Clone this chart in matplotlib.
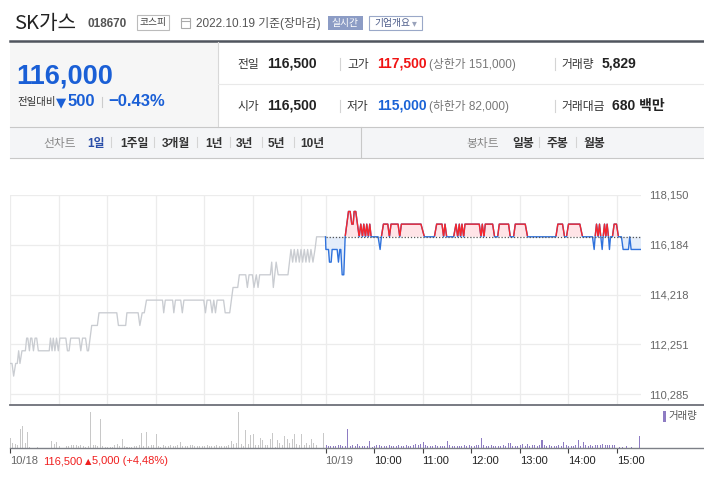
import matplotlib
matplotlib.use("Agg")
import numpy as np
import matplotlib.pyplot as plt
from matplotlib.patches import Rectangle
from matplotlib.lines import Line2D

plt.rcParams["font.family"] = ["Liberation Sans", "Noto Sans CJK KR", "DejaVu Sans"]

W, H = 704, 478

## price levels (minutes from 09:00, one trading day = 390 min)
prev_close = 116500

prev_t = [0, 2.5, 4.5, 7, 9, 10.7, 12.3, 14.8, 19, 20.6,
          22, 24, 25.5, 27, 29, 31, 33, 35, 48.5, 50,
          52, 53.5, 55.5, 57.5, 59.7, 61.7, 69, 71, 73, 75,
          85.5, 87.5, 89.7, 93.4, 95.5, 97, 101, 108, 110, 132,
          134, 143, 144.5, 158.4, 160.5, 163.4, 166, 168.7, 188.5, 190,
          192, 201, 202.5, 204.5, 211, 213, 215, 239.5, 241.6, 243.6,
          247.7, 249.8, 251.9, 254, 256, 264, 266, 271.6, 275.7, 281.5,
          283.5, 291.4, 293.4, 295.5, 299.6, 301.6, 304.5, 306.6, 308.6, 321.8,
          323.5, 325.5, 329, 331.5, 343.6, 347.3, 349.4, 351.4, 353.5, 355.6,
          357.6, 359.7, 361.7, 363.8, 365.8, 367.9, 370, 372, 374.5, 377,
          379, 390]
prev_p = [111500, 111500, 111000, 111500, 111500, 112000, 111500, 112000, 112000, 112500,
          112500, 112000, 112500, 112500, 112000, 112500, 112500, 112000, 112000, 112500,
          112000, 112500, 112000, 112500, 112000, 112500, 112500, 112000, 112000, 112500,
          112500, 112000, 112500, 112500, 112000, 112000, 113000, 113000, 113500, 113500,
          113000, 113000, 113500, 113500, 113000, 113500, 113500, 114000, 114000, 113500,
          114000, 114000, 113500, 114000, 114000, 113500, 114000, 114000, 113500, 114000,
          114000, 113500, 114000, 113500, 114000, 114000, 113500, 113500, 114500, 114500,
          115000, 115000, 114500, 115000, 115000, 114500, 115000, 114500, 115000, 115000,
          115500, 114500, 115500, 115000, 115000, 116000, 115500, 116000, 115500, 116000,
          115500, 116000, 115500, 116000, 115500, 116000, 115500, 116000, 115500, 116000,
          116500, 116500]

today_t = [0, 0.5, 3.7, 4.9, 7, 8.2, 14.4, 16, 17.7, 18.9,
           20.6, 22.6, 24.3, 28.4, 30.5, 32.5, 34.2, 35.4, 37.4, 39.5,
           41.6, 43.6, 45.7, 47.3, 49.4, 51, 53, 54.7, 56.4, 65,
           67.5, 69.1, 71.6, 77, 79, 81, 89.7, 91.8, 93.8, 118,
           122.2, 134.6, 137.4, 144, 146, 147.7, 149.8, 158.4, 161.3, 163.4,
           165.4, 167, 168.7, 170.8, 172.4, 190.1, 192.2, 193.8, 195.9, 197.5,
           206.6, 209, 212.8, 214.8, 226.3, 228.4, 232.5, 234.6, 246.9, 249.8,
           284.8, 287.2, 293, 295.5, 297.9, 300.4, 314.4, 317.7, 330, 332.1,
           333.3, 335, 337, 338.7, 340.3, 342, 343.2, 344.9, 346.5, 348.1,
           349.8, 351, 352.3, 354.7, 356.8, 359.7, 362.1, 365.8, 367.9, 374.5,
           376.1, 377.8, 390]
today_p = [116500, 116000, 116000, 115500, 115500, 116000, 116000, 115500, 116000, 116000,
           115000, 115000, 116500, 117500, 117500, 117000, 117000, 117500, 117500, 117000,
           116500, 117000, 116500, 117000, 116500, 117000, 116500, 117000, 116500, 116500,
           116000, 116500, 117000, 117000, 116500, 117000, 117000, 116500, 117000, 117000,
           116500, 116500, 117000, 117000, 116500, 117000, 116500, 116500, 117000, 116500,
           117000, 116500, 117000, 116500, 117000, 117000, 116500, 117000, 116500, 117000,
           117000, 116500, 116500, 117000, 117000, 116500, 116500, 117000, 117000, 116500,
           116500, 117000, 117000, 116500, 116500, 117000, 117000, 116500, 116500, 116000,
           116500, 117000, 116500, 117000, 116500, 116000, 116500, 117000, 116500, 117000,
           116500, 116000, 116500, 116500, 117000, 117000, 116500, 116500, 116000, 116000,
           116500, 116000, 116000]

## volume, 3 minute buckets
bucket = 3
vol_prev = [160, 80, 64, 48, 304, 352, 80, 256, 16, 0,
            0, 16, 0, 0, 0, 0, 0, 112, 64, 96,
            32, 0, 0, 32, 30, 34, 48, 45, 32, 48,
            32, 16, 32, 576, 48, 45, 32, 464, 30, 16,
            16, 16, 16, 48, 64, 32, 144, 32, 16, 16,
            16, 32, 30, 48, 240, 32, 256, 32, 34, 48,
            224, 32, 16, 48, 32, 30, 48, 32, 32, 34,
            96, 32, 30, 32, 34, 48, 32, 30, 32, 32,
            32, 34, 32, 30, 32, 48, 32, 32, 30, 32,
            48, 112, 64, 80, 576, 64, 32, 288, 64, 208,
            224, 48, 48, 160, 128, 48, 48, 144, 240, 16,
            128, 80, 48, 192, 144, 80, 144, 224, 64, 48,
            224, 48, 80, 48, 144, 80, 48, 0, 0, 240]
vol_today = [48, 32, 32, 30, 32, 34, 48, 32, 32, 304,
             32, 48, 32, 64, 32, 30, 32, 32, 112, 16,
             32, 48, 48, 32, 30, 32, 34, 32, 32, 30,
             48, 32, 32, 48, 32, 30, 48, 64, 48, 64,
             96, 48, 32, 30, 32, 34, 32, 32, 30, 32,
             112, 48, 32, 32, 30, 32, 32, 48, 32, 34,
             32, 30, 48, 48, 160, 48, 32, 32, 48, 32,
             32, 30, 32, 34, 32, 80, 80, 32, 30, 32,
             48, 64, 32, 64, 32, 48, 48, 32, 48, 128,
             48, 32, 48, 32, 30, 32, 34, 32, 96, 48,
             32, 30, 32, 34, 128, 32, 96, 48, 32, 48,
             32, 48, 48, 48, 64, 48, 48, 48, 48, 48,
             0, 16, 16, 0, 32, 0, 16, 0, 0, 192]

y_ticks = [110285, 112251, 114218, 116184, 118150]
y_labels = ["110,285", "112,251", "114,218", "116,184", "118,150"]
hour_ticks = [0, 60, 120, 180, 240, 300, 360, 390, 450, 510, 570, 630, 690, 750]
vol_ticks = [0, 390, 450, 510, 570, 630, 690, 750]
vol_labels = ["10/18", "10/19", "10:00", "11:00", "12:00", "13:00", "14:00", "15:00"]


def fx(x):
    return x / W


def fy(y):
    return 1 - y / H


def txt(x, y, s, **kw):
    kw.setdefault("va", "baseline")
    fig.text(fx(x), fy(y), s, **kw)


def hline(x0, x1, y, color, lw=0.8):
    fig.add_artist(Line2D([fx(x0), fx(x1)], [fy(y), fy(y)], color=color, lw=lw))


def vline(x, y0, y1, color="#d4d4d4", lw=0.8):
    fig.add_artist(Line2D([fx(x), fx(x)], [fy(y0), fy(y1)], color=color, lw=lw))


def box(x0, y0, x1, y1, face, edge="none", lw=0.8):
    fig.add_artist(Rectangle((fx(x0), fy(y1)), (x1 - x0) / W, (y1 - y0) / H,
                             transform=fig.transFigure, facecolor=face,
                             edgecolor=edge, lw=lw))


fig = plt.figure(figsize=(7.04, 4.78), dpi=100)
fig.patch.set_facecolor("white")

## header
txt(14, 29, "SK가스", family="Noto Sans CJK KR", fontsize=14.5, weight="light", color="#222")
txt(88, 27, "018670", fontsize=8.5, weight="bold", color="#555")
box(137, 15.5, 169, 29.5, "white", "#bbbbbb")
txt(153, 22.5, "코스피", fontsize=7, color="#444", ha="center", va="center")
box(181, 18, 190, 28, "none", "#aaaaaa")
hline(181, 190, 20.5, "#aaaaaa")
txt(196, 27.5, "2022.10.19 기준(장마감)", fontsize=8.5, color="#555")
box(328, 16, 362.5, 29.5, "#8c9cc5")
txt(345, 22.7, "실시간", fontsize=7, color="white", ha="center", va="center")
box(369, 16, 422, 29.5, "white", "#9aa8c8")
txt(374, 22.7, "기업개요", fontsize=7, color="#4a5a88", va="center")
txt(412, 22.7, "▾", family="DejaVu Sans", fontsize=7, color="#9aa3bb", va="center")

hline(10, 704, 41, "#50555e", lw=1.8)

## current price block
box(10, 42, 218, 127, "#f6f6f6")
vline(218, 42, 127, "#d8d8d8")
txt(16, 84, "116,000", fontsize=19.5, weight="bold", color="#1a5fd6")
txt(17, 105.5, "전일대비", fontsize=7.5, color="#333")
txt(56, 106, "▼", family="DejaVu Sans", fontsize=9.5, color="#1a5fd6")
txt(68, 106, "500", fontsize=12, weight="bold", color="#1a5fd6")
vline(102, 97, 107, "#cccccc")
txt(108, 106, "−0.43%", fontsize=12, weight="bold", color="#1a5fd6")

hline(218, 704, 84, "#e9e9e9")
for yb, l1, v1, l2, v2, c2, lim, l3, v3 in [
        (68, "전일", "116,500", "고가", "117,500", "#f01414", "(상한가 151,000)", "거래량", "5,829"),
        (110, "시가", "116,500", "저가", "115,000", "#1a63d6", "(하한가 82,000)", "거래대금", "680 백만")]:
    txt(237, yb, l1, fontsize=8.5, color="#333")
    txt(267, yb, v1, fontsize=10, weight="bold", color="#222")
    vline(340, yb - 10, yb + 2)
    txt(347, yb, l2, fontsize=8.5, color="#333")
    txt(377, yb, v2, fontsize=10, weight="bold", color=c2)
    txt(429, yb, lim, fontsize=8.5, color="#777")
    vline(555, yb - 10, yb + 2)
    txt(561, yb, l3, fontsize=8.5, color="#333")
    txt(602 if l3 == "거래량" else 612, yb, v3, fontsize=10, weight="bold", color="#222")

## period nav bar
box(10, 127, 704, 158, "#f4f5f7")
hline(10, 704, 127, "#c8c8c8")
hline(10, 704, 158, "#c8c8c8")
vline(360.5, 127, 158, "#c8c8c8")
txt(43, 147, "선차트", fontsize=8.5, color="#888")
txt(87, 147, "1일", fontsize=8.5, weight="bold", color="#2a4ea8")
for x, s in [(120, "1주일"), (162, "3개월"), (205, "1년"), (236, "3년"), (268, "5년"), (300, "10년")]:
    txt(x, 147, s, fontsize=8.5, weight="bold", color="#333")
for x in [111, 154, 197, 230, 262, 294]:
    vline(x, 137, 147)
txt(466, 147, "봉차트", fontsize=8.5, color="#888")
for x, s in [(512, "일봉"), (547, "주봉"), (583, "월봉")]:
    txt(x, 147, s, fontsize=8.5, weight="bold", color="#333")
for x in [539, 576]:
    vline(x, 137, 147)

## price chart
ax = fig.add_axes([fx(10), fy(405), 631 / W, 210 / H])
ax.set_xlim(0, 780)
ax.set_ylim(109860, 118150)
for s in ax.spines.values():
    s.set_visible(False)
ax.set_xticks(hour_ticks)
ax.set_yticks(y_ticks)
ax.set_yticklabels(y_labels)
ax.yaxis.tick_right()
ax.tick_params(axis="x", length=0, labelbottom=False)
ax.tick_params(axis="y", length=0, pad=6, labelsize=8, labelcolor="#666")
ax.grid(True, color="#ececec", lw=0.9)
ax.set_axisbelow(True)

ax.plot(prev_t, prev_p, color="#c9ccd1", lw=0.95)

tx = 390 + np.array(today_t)
tp = np.array(today_p)
ax.fill_between(tx, tp, prev_close, where=tp >= prev_close, interpolate=True, color="#ffe4e7", lw=0)
ax.fill_between(tx, tp, prev_close, where=tp <= prev_close, interpolate=True, color="#e4edfa", lw=0)
ax.plot(tx, tp, color="#2f72dc", lw=1.0)
red, = ax.plot(tx, tp, color="#f7262b", lw=1.0)
red.set_clip_path(Rectangle((380, prev_close + 45), 420, 5000, transform=ax.transData))
ax.plot([390, 780], [prev_close, prev_close], color="#555", ls=(0, (1, 1.5)), lw=0.9)

## volume chart
vax = fig.add_axes([fx(10), fy(447.5), 631 / W, 42.5 / H])
vax.set_xlim(0, 780)
vax.set_ylim(0, 680)
vax.patch.set_alpha(0)
for s in vax.spines.values():
    s.set_visible(False)
vx_prev = np.arange(len(vol_prev)) * bucket
vx_today = 390 + np.arange(len(vol_today)) * bucket
vax.bar(vx_prev, vol_prev, width=1.25, color="#c8c8c8", lw=0, align="edge")
vax.bar(vx_today, vol_today, width=1.25, color="#8e7cc3", lw=0, align="edge")
vax.set_yticks([])
vax.set_xticks(vol_ticks)
vax.set_xticklabels(vol_labels)
vax.tick_params(axis="x", direction="out", length=3.6, width=0.8, color="#444",
                pad=2.5, labelsize=8, labelcolor="#222")
for i, lab in enumerate(vax.get_xticklabels()):
    lab.set_horizontalalignment("left")
    if i < 2:
        lab.set_color("#666")

hline(10, 704, 405, "#6d7078", lw=1.3)
hline(10, 704, 447.5, "#7d8087", lw=1.0)
box(663, 411, 666, 422, "#8e7cc3")
txt(668, 416.5, "거래량", fontsize=7.5, color="#555", va="center")
txt(43, 464.5, "116,500", fontsize=8, color="#f01e1e")
txt(85, 464.5, "▲", family="DejaVu Sans", fontsize=6, color="#f01e1e")
txt(92, 464.5, "5,000 (+4,48%)", fontsize=8, color="#f01e1e")

plt.savefig("out.png", dpi=100)
